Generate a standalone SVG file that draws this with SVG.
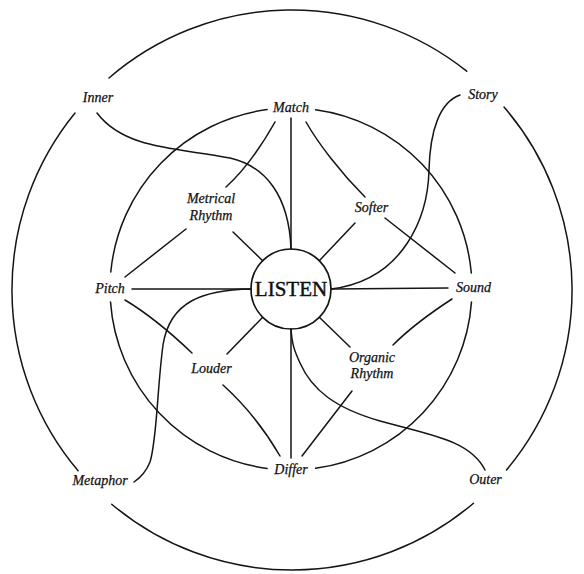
<svg xmlns="http://www.w3.org/2000/svg" width="584" height="574" viewBox="0 0 584 574">
<style>
.ln{fill:none;stroke:#151515;stroke-width:1.5;stroke-linecap:round}
.lb{font-family:"Liberation Serif","Times New Roman",serif;font-style:italic;font-size:14px;fill:#111;stroke:#111;stroke-width:0.25;text-anchor:middle}
.ct{font-family:"Liberation Serif","Times New Roman",serif;font-size:21px;fill:#111;stroke:#111;stroke-width:0.45;text-anchor:middle}
</style>
<rect width="584" height="574" fill="#fff"/>
<g id="outer-ring" class="ln">
<path d="M504,107 A280,280 0 0 1 506.5,470"/>
<path d="M473.5,503.2 A280,280 0 0 1 111.7,504.2"/>
<path d="M78.1,470.7 A280,280 0 0 1 75,113"/>
<path d="M109,78 A280,280 0 0 1 466.7,71.2"/>
</g>
<g id="inner-ring" class="ln">
<path d="M315.6,109.7 A181,181 0 0 1 471.3,272.9"/>
<path d="M471.5,301.9 A181,181 0 0 1 315.6,468.3"/>
<path d="M267.1,468.4 A181,181 0 0 1 110.5,301.9"/>
<path d="M110.8,272 A181,181 0 0 1 267.1,109.6"/>
</g>
<g id="connectors" class="ln">
<path d="M291,118 L291,249"/>
<path d="M291,329 L291,458"/>
<path d="M132,289 L251,289"/>
<path d="M331,289 L448,288"/>
<path d="M233,232 L262.7,260.7"/>
<path d="M355,223 L319.3,260.7"/>
<path d="M227,354 L262.7,317.3"/>
<path d="M350,347 L319.3,317.3"/>
<path d="M275,122 C262,145 245,170 226,187"/>
<path d="M186,229 L125,277"/>
<path d="M306,122 C318,143 340,172 365,197"/>
<path d="M385,218 L455,273"/>
<path d="M125,300 C145,312 170,332 192,353"/>
<path d="M223,385 C245,405 265,430 280,456"/>
<path d="M452,299 C432,312 410,328 393,345"/>
<path d="M352,391 L302,456"/>
<path d="M97,113 C125,150 180,148 230,158 C265,166 289,195 291,249"/>
<path d="M460,95 C440,102 430,130 429,170 C428,215 405,280 331,289"/>
<path d="M251,289 C205,290 170,300 163,345 C157,390 157,440 150,462 C146,472 140,478 134,482"/>
<path d="M291,329 C292,345 295,352 300,363 C312,390 335,408 380,421 C430,435 470,440 485,470"/>
</g>
<g id="listen">
<circle cx="291" cy="289" r="40" class="ln" style="stroke-width:1.7"/>
<text x="291" y="296" class="ct">LISTEN</text>
</g>
<g id="match"><text x="291" y="112" class="lb">Match</text></g>
<g id="differ"><text x="291" y="474" class="lb">Differ</text></g>
<g id="pitch"><text x="110" y="293" class="lb">Pitch</text></g>
<g id="sound"><text x="473.5" y="292" class="lb">Sound</text></g>
<g id="inner"><text x="98" y="102" class="lb">Inner</text></g>
<g id="story"><text x="483" y="99" class="lb">Story</text></g>
<g id="metaphor"><text x="100" y="485" class="lb">Metaphor</text></g>
<g id="outer"><text x="485.5" y="484" class="lb">Outer</text></g>
<g id="metrical-rhythm"><text x="211" y="203" class="lb">Metrical</text><text x="211" y="220" class="lb">Rhythm</text></g>
<g id="softer"><text x="371.5" y="212" class="lb">Softer</text></g>
<g id="louder"><text x="211.5" y="373" class="lb">Louder</text></g>
<g id="organic-rhythm"><text x="372" y="362" class="lb">Organic</text><text x="372" y="378" class="lb">Rhythm</text></g>
</svg>
